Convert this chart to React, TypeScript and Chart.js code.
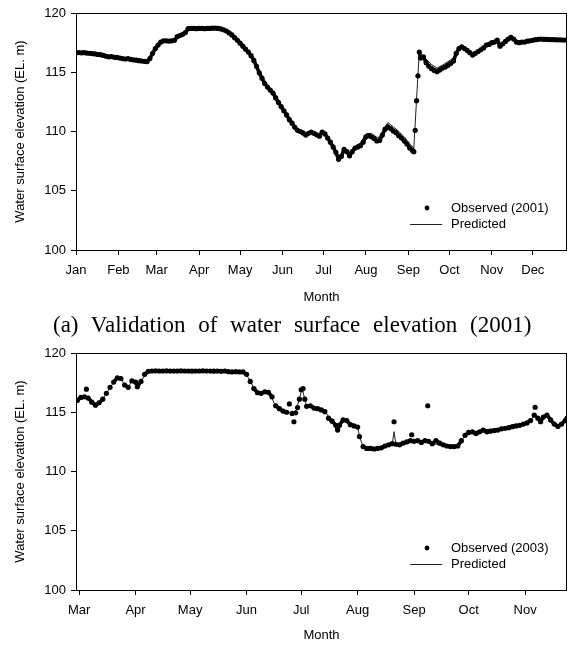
import React, { useEffect, useRef } from 'react';
import { Chart, registerables } from 'chart.js';

Chart.register(...registerables);

const SANS = '"Liberation Sans", Arial, sans-serif';

// ---------- 2001 data (day of year, elevation EL. m) ----------
const monthLabels2001 = ['Jan', 'Feb', 'Mar', 'Apr', 'May', 'Jun', 'Jul', 'Aug', 'Sep', 'Oct', 'Nov', 'Dec'];
const monthStartDays2001 = [0, 31, 59, 90, 120, 151, 181, 212, 243, 273, 304, 334];

const observed2001: [number, number][] = [
  [0, 116.65], [2, 116.66], [4, 116.64], [6, 116.65], [8, 116.62], [10, 116.6], [12, 116.58], [14, 116.55],
  [16, 116.5], [18, 116.48], [20, 116.42], [22, 116.35], [24, 116.3], [26, 116.32], [28, 116.26], [30, 116.25],
  [32, 116.2], [34, 116.15], [36, 116.12], [38, 116.15], [40, 116.08], [42, 116.05], [44, 116.02], [46, 115.98],
  [48, 115.95], [50, 115.92], [52, 115.9], [54, 116.15], [56, 116.6], [58, 117.0], [60, 117.3], [62, 117.55],
  [64, 117.65], [66, 117.65], [68, 117.63], [70, 117.65], [72, 117.7], [74, 118.0], [76, 118.1], [78, 118.2],
  [80, 118.35], [82, 118.68], [84, 118.7], [86, 118.7], [88, 118.68], [90, 118.7], [92, 118.7], [94, 118.68],
  [96, 118.7], [98, 118.7], [100, 118.72], [102, 118.72], [104, 118.7], [106, 118.66], [108, 118.58], [110, 118.48],
  [112, 118.32], [114, 118.15], [116, 117.92], [118, 117.7], [120, 117.45], [122, 117.2], [124, 116.95], [126, 116.7],
  [128, 116.4], [130, 116.0], [132, 115.5], [134, 114.95], [136, 114.5], [138, 114.05], [140, 113.75], [142, 113.5],
  [144, 113.25], [146, 112.85], [148, 112.45], [150, 112.1], [152, 111.75], [154, 111.4], [156, 111.0], [158, 110.7],
  [160, 110.35], [162, 110.1], [164, 110.0], [166, 109.88], [168, 109.7], [170, 109.85], [172, 109.95], [174, 109.85],
  [176, 109.72], [178, 109.6], [180, 109.95], [182, 109.8], [184, 109.45], [186, 109.1], [188, 108.7], [190, 108.25],
  [192, 107.65], [194, 107.9], [196, 108.5], [198, 108.3], [200, 107.95], [202, 108.3], [204, 108.6], [206, 108.7],
  [208, 108.8], [210, 109.1], [212, 109.55], [214, 109.65], [216, 109.55], [218, 109.4], [220, 109.2], [222, 109.25],
  [224, 109.7], [226, 110.2], [228, 110.4], [230, 110.25], [232, 110.05], [234, 109.9], [236, 109.65], [238, 109.45],
  [240, 109.2], [242, 108.95], [244, 108.6], [246, 108.4], [247, 108.3], [248, 110.1], [249, 112.6], [250, 114.7],
  [251, 116.7], [252, 116.2], [254, 116.3], [256, 115.8], [258, 115.5], [260, 115.3], [262, 115.15], [264, 115.05],
  [266, 115.2], [268, 115.35], [270, 115.45], [272, 115.6], [274, 115.75], [276, 115.95], [278, 116.6], [280, 117.0],
  [282, 117.15], [284, 117.0], [286, 116.85], [288, 116.65], [290, 116.45], [292, 116.6], [294, 116.75], [296, 116.9],
  [298, 117.05], [300, 117.3], [302, 117.35], [304, 117.5], [306, 117.55], [308, 117.72], [310, 117.2], [312, 117.4],
  [314, 117.6], [316, 117.8], [318, 117.95], [320, 117.8], [322, 117.55], [324, 117.5], [326, 117.55], [328, 117.55],
  [330, 117.62], [332, 117.65], [334, 117.7], [336, 117.75], [338, 117.78], [340, 117.8], [342, 117.78], [344, 117.78],
  [346, 117.76], [348, 117.76], [350, 117.75], [352, 117.74], [354, 117.74], [356, 117.72], [358, 117.72],
];

const predicted2001: [number, number][] = [
  [0, 116.65], [20, 116.42], [36, 116.12], [52, 115.9], [58, 117.0], [64, 117.65], [72, 117.7], [76, 118.1],
  [80, 118.35], [82, 118.68], [100, 118.72], [106, 118.66], [112, 118.32], [118, 117.7], [124, 116.95], [128, 116.4],
  [132, 115.5], [136, 114.5], [140, 113.75], [144, 113.25], [148, 112.45], [152, 111.75], [156, 111.0], [160, 110.35],
  [164, 110.0], [168, 109.72], [172, 109.95], [178, 109.62], [180, 109.95], [184, 109.5], [188, 108.8], [192, 107.8],
  [194, 108.05], [196, 108.65], [198, 108.45], [200, 108.15], [202, 108.5], [206, 108.9], [208, 109.0], [212, 109.8],
  [216, 109.85], [220, 109.5], [222, 109.55], [224, 110.0], [228, 110.75], [232, 110.4], [236, 110.0], [240, 109.55],
  [244, 108.95], [247, 108.6], [251, 116.8], [252, 116.45], [256, 116.1], [260, 115.65], [264, 115.35], [268, 115.6],
  [272, 115.9], [276, 116.2], [278, 116.7], [282, 117.2], [286, 116.9], [290, 116.5], [296, 116.9], [300, 117.3],
  [304, 117.5], [308, 117.72], [310, 117.25], [314, 117.6], [318, 117.95], [322, 117.6], [324, 117.5], [330, 117.62],
  [336, 117.75], [340, 117.8], [358, 117.72],
];

// ---------- 2003 data ----------
const monthLabels2003 = ['Mar', 'Apr', 'May', 'Jun', 'Jul', 'Aug', 'Sep', 'Oct', 'Nov'];
const monthStartDays2003 = [59, 90, 120, 151, 181, 212, 243, 273, 304];

const observed2003: [number, number][] = [
  [58, 116.0], [60, 116.25], [62, 116.3], [63, 116.95], [64, 116.2], [66, 115.85], [68, 115.6], [70, 115.8],
  [72, 116.1], [74, 116.6], [76, 117.1], [78, 117.55], [80, 117.9], [82, 117.85], [84, 117.3], [86, 117.1],
  [88, 117.65], [90, 117.55], [91, 117.15], [93, 117.6], [95, 118.2], [97, 118.45],
  [99, 118.48], [101, 118.5], [103, 118.48], [105, 118.48], [107, 118.5], [109, 118.48], [111, 118.48], [113, 118.48],
  [115, 118.5], [117, 118.48], [119, 118.48], [121, 118.47], [123, 118.48], [125, 118.48], [127, 118.5], [129, 118.48],
  [131, 118.48], [133, 118.47], [135, 118.48], [137, 118.45], [139, 118.48],
  [141, 118.42], [143, 118.4], [145, 118.42], [147, 118.4], [149, 118.4], [151, 118.2], [153, 117.6], [155, 117.0],
  [157, 116.65], [159, 116.6], [161, 116.72], [163, 116.68], [165, 116.3], [167, 115.55], [169, 115.3], [171, 115.1],
  [173, 115.0], [174.5, 115.7], [176, 114.9], [177, 114.2], [178, 114.95], [179, 115.4], [180, 116.1], [181, 116.9],
  [182, 117.0], [183, 116.1], [184, 115.5], [186, 115.55], [188, 115.35], [190, 115.3], [192, 115.2], [194, 115.05],
  [196, 114.5], [198, 114.25], [200, 113.9], [201, 113.5], [202, 113.9], [204, 114.35], [206, 114.3], [208, 113.95],
  [210, 113.85], [212, 113.75], [213, 112.95], [215, 112.1], [217, 111.95], [219, 111.95], [221, 111.9], [223, 111.95],
  [225, 112.0], [227, 112.15], [229, 112.25], [231, 112.35], [232, 114.2], [233, 112.3], [235, 112.25], [237, 112.4],
  [239, 112.5], [241, 112.6], [241.7, 113.1], [243, 112.55], [245, 112.6], [247, 112.45], [249, 112.6], [250.5, 115.55],
  [251, 112.55], [253, 112.35], [255, 112.6], [257, 112.4], [259, 112.25], [261, 112.15], [263, 112.1], [265, 112.1],
  [267, 112.15], [269, 112.6], [271, 113.05], [273, 113.3], [275, 113.35], [277, 113.2], [279, 113.35], [281, 113.5],
  [283, 113.35], [285, 113.4], [287, 113.45], [289, 113.5], [291, 113.6], [293, 113.65], [295, 113.7], [297, 113.78],
  [299, 113.85], [301, 113.9], [303, 114.0], [305, 114.1], [307, 114.3], [309, 114.75], [309.5, 115.42], [311, 114.5],
  [312.5, 114.2], [314, 114.6], [316, 114.75], [318, 114.35], [320, 114.0], [322, 113.8], [324, 114.0], [326, 114.3],
  [327, 114.5],
];

const predicted2003: [number, number][] = [
  [57.3, 116.0], [60, 116.25], [62, 116.3], [64, 116.2], [68, 115.6], [72, 116.1], [76, 117.1], [80, 117.9],
  [82, 117.85], [84, 117.3], [86, 117.1], [88, 117.65], [90, 117.55], [91, 117.2], [93, 117.6], [96, 118.35],
  [98, 118.48], [150, 118.42], [152, 117.9], [156, 116.75], [158, 116.6], [162, 116.7], [164, 116.6], [166, 115.8],
  [170, 115.2], [176, 114.9], [178, 115.0], [181.5, 117.0], [183, 116.1], [184, 115.5], [188, 115.35], [194, 115.05],
  [198, 114.25], [200, 113.9], [204, 114.35], [206, 114.3], [212, 113.75], [213, 112.95], [215, 112.1], [225, 112.0],
  [231, 112.3], [232, 113.36], [233, 112.3], [239, 112.5], [249, 112.6], [253, 112.35], [263, 112.1], [267, 112.15],
  [271, 113.05], [275, 113.35], [281, 113.5], [295, 113.7], [303, 114.0], [307, 114.3], [309, 114.75], [312.5, 114.25],
  [316, 114.75], [322, 113.8], [327, 114.5],
];

const yTitle = 'Water surface elevation (EL. m)';
const xTitle = 'Month';

const decorPlugin = {
  id: 'decor',
  afterDraw(chart: any, _args: any, o: any) {
    const { ctx, chartArea: a } = chart;
    ctx.save();
    ctx.strokeStyle = '#000';
    ctx.lineWidth = 1;
    ctx.strokeRect(a.left + 0.5, a.top + 0.5, a.right - a.left - 1, a.bottom - a.top);
    ctx.fillStyle = '#000';
    ctx.font = `13px ${SANS}`;
    ctx.textBaseline = 'middle';
    ctx.textAlign = 'center';
    ctx.fillText(xTitle, (a.left + a.right) / 2, a.bottom + o.xTitleOffset);
    ctx.save();
    ctx.translate(20, (a.top + a.bottom) / 2);
    ctx.rotate(-Math.PI / 2);
    ctx.fillText(yTitle, 0, 0);
    ctx.restore();
    ctx.textAlign = 'left';
    const yObs = a.bottom - 42;
    const yPred = a.bottom - 26;
    ctx.beginPath();
    ctx.arc(a.right - 140, yObs, 2.4, 0, Math.PI * 2);
    ctx.fill();
    ctx.fillText(o.obsLabel, a.right - 116, yObs);
    ctx.beginPath();
    ctx.lineWidth = 1;
    ctx.strokeStyle = '#222';
    ctx.moveTo(a.right - 157, yPred + 0.5);
    ctx.lineTo(a.right - 125, yPred + 0.5);
    ctx.stroke();
    ctx.fillText('Predicted', a.right - 116, yPred);
    ctx.restore();
  },
};

type Props = {
  obs: [number, number][];
  pred: [number, number][];
  xMin: number;
  xMax: number;
  tickDays: number[];
  tickLabels: string[];
  obsLabel: string;
  height: number;
  padTop: number;
  plotBottom: number;
  xTitleOffset: number;
  top: number;
  joinLimit: number;
};

function ElevationChart(p: Props) {
  const ref = useRef<HTMLCanvasElement>(null);
  useEffect(() => {
    const chart = new Chart(ref.current as HTMLCanvasElement, {
      type: 'scatter',
      data: {
        datasets: [
          {
            label: p.obsLabel,
            data: p.obs.map(([x, y]) => ({ x, y })),
            showLine: true,
            borderColor: '#000',
            borderWidth: 3.6,
            borderJoinStyle: 'round',
            borderCapStyle: 'round',
            segment: {
              borderColor: (c: any) =>
                Math.abs(c.p1.parsed.y - c.p0.parsed.y) > p.joinLimit ? 'rgba(0,0,0,0)' : '#000',
            },
            pointRadius: 2.6,
            pointBorderWidth: 0,
            pointBackgroundColor: '#000',
            backgroundColor: '#000',
            order: 1,
          },
          {
            label: 'Predicted',
            data: p.pred.map(([x, y]) => ({ x, y })),
            showLine: true,
            borderColor: '#222',
            borderWidth: 1,
            pointRadius: 0,
            order: 2,
          },
        ],
      },
      options: {
        responsive: false,
        animation: false,
        events: [],
        layout: { padding: { top: p.padTop, right: 7, left: 0, bottom: 0 } },
        plugins: {
          legend: { display: false },
          tooltip: { enabled: false },
          decor: { obsLabel: p.obsLabel, xTitleOffset: p.xTitleOffset },
        } as any,
        scales: {
          x: {
            type: 'linear',
            min: p.xMin,
            max: p.xMax,
            afterFit: (s: any) => {
              s.height = p.height - p.plotBottom;
            },
            afterBuildTicks: (s: any) => {
              s.ticks = p.tickDays.map((v) => ({ value: v }));
            },
            ticks: {
              autoSkip: false,
              maxRotation: 0,
              callback: (_v: any, i: number) => p.tickLabels[i],
              color: '#000',
              font: { family: SANS, size: 13 },
              padding: 8,
            },
            grid: { drawOnChartArea: false, tickLength: 5, color: '#000' },
            border: { display: false },
          },
          y: {
            min: 100,
            max: 120,
            afterFit: (s: any) => {
              s.width = 76;
            },
            ticks: {
              stepSize: 5,
              color: '#000',
              font: { family: SANS, size: 13 },
              padding: 5,
            },
            grid: { drawOnChartArea: false, tickLength: 5, color: '#000' },
            border: { display: false },
          },
        },
      },
      plugins: [decorPlugin],
    } as any);
    return () => chart.destroy();
  }, []);
  return (
    <canvas
      ref={ref}
      width={574}
      height={p.height}
      style={{ position: 'absolute', left: 0, top: p.top, width: 574, height: p.height, display: 'block' }}
    />
  );
}

export default function App() {
  return (
    <div style={{ position: 'absolute', left: 0, top: 0, width: 574, height: 645, background: '#fff', overflow: 'hidden' }}>
      <ElevationChart
        obs={observed2001}
        pred={predicted2001}
        xMin={0}
        xMax={359}
        tickDays={monthStartDays2001}
        tickLabels={monthLabels2001}
        obsLabel="Observed (2001)"
        height={312}
        padTop={13}
        plotBottom={250}
        xTitleOffset={47}
        top={0}
        joinLimit={1.0}
      />
      <div
        style={{
          position: 'absolute',
          left: 53,
          top: 310,
          lineHeight: '30px',
          fontFamily: '"Liberation Serif", "Times New Roman", serif',
          fontSize: 23,
          wordSpacing: 7,
          whiteSpace: 'nowrap',
          color: '#000',
        }}
      >
        (a) Validation of water surface elevation (2001)
      </div>
      <ElevationChart
        obs={observed2003}
        pred={predicted2003}
        xMin={57.3}
        xMax={327}
        tickDays={monthStartDays2003}
        tickLabels={monthLabels2003}
        obsLabel="Observed (2003)"
        height={307}
        padTop={15}
        plotBottom={252}
        xTitleOffset={45}
        top={338}
        joinLimit={0.45}
      />
    </div>
  );
}
